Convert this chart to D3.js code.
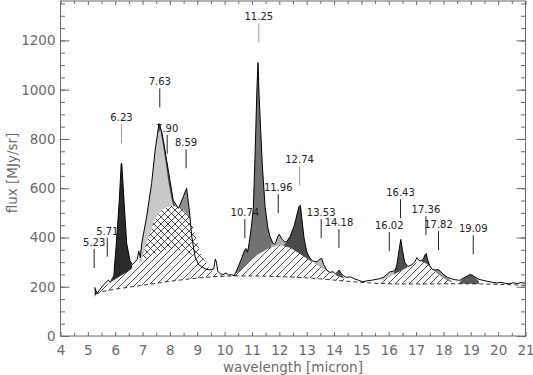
<!DOCTYPE html>
<html>
<head>
<meta charset="utf-8">
<script src="https://cdn.jsdelivr.net/npm/d3@7"></script>
<style>
body { margin: 0; background: #fff; }
svg { display: block; }
text { font-family: "DejaVu Sans", sans-serif; }
</style>
</head>
<body>
<div id="chart"></div>
<script>
// observed spectrum [wavelength (micron), flux (MJy/sr)]
var spectrum = [
  [5.25,198],[5.3,182],[5.36,176],[5.45,190],[5.55,205],[5.62,212],[5.7,222],[5.75,227],[5.82,218],[5.9,235],
  [5.95,245],[6.05,389],[6.15,551],[6.22,700],[6.24,700],[6.32,551],[6.42,376],[6.54,305],[6.62,290],[6.72,300],
  [6.8,310],[6.86,345],[6.92,318],[6.97,376],[7.15,484],[7.33,619],[7.46,754],[7.6,862],[7.7,830],[7.76,795],
  [7.88,713],[8.0,632],[8.12,551],[8.31,518],[8.49,565],[8.61,600],[8.71,511],[8.8,403],[8.92,321],[9.05,290],
  [9.16,281],[9.3,272],[9.47,268],[9.6,272],[9.66,312],[9.7,300],[9.75,262],[9.85,252],[9.95,250],[10.05,256],
  [10.15,247],[10.25,250],[10.35,244],[10.5,281],[10.62,315],[10.72,345],[10.78,355],[10.84,340],[10.9,380],[10.98,445],
  [11.05,520],[11.12,760],[11.18,1000],[11.22,1110],[11.26,980],[11.32,830],[11.38,690],[11.48,524],[11.58,440],[11.66,403],
  [11.76,378],[11.84,372],[11.95,405],[12.0,413],[12.08,395],[12.2,382],[12.27,383],[12.4,405],[12.55,450],[12.65,495],
  [12.72,525],[12.77,531],[12.82,480],[12.9,400],[13.0,342],[13.1,320],[13.2,305],[13.37,301],[13.48,312],[13.55,315],
  [13.62,290],[13.73,268],[13.85,258],[13.97,261],[14.05,252],[14.15,262],[14.19,268],[14.25,255],[14.35,245],[14.45,238],
  [14.6,240],[14.75,232],[14.9,226],[15.05,220],[15.2,224],[15.35,226],[15.5,229],[15.65,232],[15.8,238],[15.95,252],
  [16.05,261],[16.15,262],[16.25,270],[16.3,290],[16.38,350],[16.44,392],[16.5,350],[16.58,300],[16.7,282],[16.85,290],
  [16.95,300],[17.03,318],[17.08,310],[17.15,305],[17.25,310],[17.33,330],[17.37,335],[17.42,310],[17.5,285],[17.6,270],
  [17.7,268],[17.8,270],[17.9,262],[18.0,250],[18.15,238],[18.3,232],[18.45,228],[18.6,226],[18.75,236],[18.9,245],
  [18.97,250],[19.05,247],[19.15,240],[19.3,230],[19.45,226],[19.6,222],[19.8,218],[19.95,215],[20.1,218],[20.25,214],
  [20.4,212],[20.55,216],[20.7,213],[20.85,217],[21.0,214]
];

// dust continuum (dashed from 5.3 on)
var continuum = [
  [5.2,150],[5.3,170],[5.5,180],[6.0,190],[6.5,198],[7.0,206],[7.5,214],[8.0,222],[8.5,229],[9.0,235],[9.5,240],
  [10.0,243],[10.5,244],[11.0,244],[11.5,243],[12.0,241],[12.5,239],[13.0,236],[13.5,232],[14.0,227],[14.5,222],
  [15.0,218],[15.5,214],[16.0,212],[16.5,211],[17.0,211],[17.5,211],[18.0,212],[18.5,212],[19.0,212],[19.5,211],
  [20.0,210],[20.5,208],[21.0,206]
];

// plateaus (diagonal hatch)
var plateau6to9 = [
  [5.3,170],[5.5,195],[6.0,230],[6.5,265],[7.0,305],[7.5,335],[7.8,348],[8.1,352],[8.4,347],[8.7,335],
  [9.0,318],[9.2,298],[9.4,276],[9.6,260],[9.8,250],[10.0,243]
];
var plateau10to14 = [
  [10.3,244],[10.6,268],[10.9,300],[11.2,330],[11.6,355],[12.0,369],[12.4,358],[12.8,330],[13.2,300],[13.5,280],
  [13.8,258],[14.1,245],[14.4,232],[14.6,221]
];
var plateau15to18 = [
  [15.5,214],[15.8,228],[16.1,245],[16.4,262],[16.7,280],[17.0,297],[17.2,303],[17.4,292],[17.6,270],[17.8,252],
  [18.0,235],[18.2,222],[18.4,212]
];
// 8 micron plateau (cross hatch)
var plateau8 = [
  [6.95,300],[7.1,360],[7.25,410],[7.4,460],[7.55,490],[7.7,510],[7.9,524],[8.1,528],[8.3,524],[8.5,512],
  [8.7,485],[8.85,440],[9.0,380],[9.15,330],[9.3,300],[9.45,272]
];

// features, top edges
var band523 = [[5.25,150],[5.25,198],[5.3,182],[5.36,172]];
var band623 = [[5.85,218],[5.95,245],[6.05,389],[6.15,551],[6.22,700],[6.24,700],[6.32,551],[6.42,376],[6.54,305],[6.62,285]];
var band859 = [[8.0,470],[8.12,551],[8.31,518],[8.49,565],[8.61,600],[8.71,511],[8.8,403],[8.92,321],[9.05,290],[9.16,281],[9.3,260]];
var band790 = [[7.5,700],[7.6,862],[7.7,830],[7.76,795],[7.88,713],[8.0,632],[8.12,551],[8.25,500]];
var band763 = [[6.85,290],[6.97,376],[7.15,484],[7.33,619],[7.46,754],[7.58,855],[7.65,838],[7.75,772],[7.85,700],[7.95,622],[8.05,562],[8.15,515],[8.3,480]];
var band1125 = [[10.35,240],[10.5,281],[10.62,315],[10.72,345],[10.78,355],[10.84,340],[10.9,380],[10.98,445],[11.05,520],[11.12,760],[11.18,1000],[11.22,1110],[11.26,980],[11.32,830],[11.38,690],[11.48,524],[11.58,440],[11.66,403],[11.76,378],[11.84,362],[11.95,350]];
var band1196 = [[11.7,372],[11.84,372],[11.95,405],[12.0,413],[12.08,395],[12.2,382],[12.3,375]];
var band1274 = [[12.15,365],[12.27,383],[12.4,405],[12.55,450],[12.65,495],[12.72,525],[12.77,531],[12.82,480],[12.9,400],[13.0,342],[13.1,320],[13.2,300]];
var band1353 = [[13.2,295],[13.37,301],[13.48,312],[13.55,315],[13.62,290],[13.73,268],[13.85,255]];
var band1418 = [[14.05,247],[14.15,262],[14.19,268],[14.25,255],[14.35,240]];
var band1602 = [[15.7,222],[15.8,238],[15.95,252],[16.05,261],[16.15,262],[16.25,270]];
var band1643 = [[16.2,262],[16.3,290],[16.38,350],[16.44,392],[16.5,350],[16.58,300],[16.7,278]];
var band1736 = [[17.15,300],[17.25,310],[17.33,330],[17.37,335],[17.42,310],[17.5,285],[17.6,268]];
var band1782 = [[17.55,262],[17.7,268],[17.8,270],[17.9,262],[18.0,250],[18.15,238],[18.3,222]];
var band1909 = [[18.6,220],[18.75,236],[18.9,245],[18.97,250],[19.05,247],[19.15,240],[19.3,222]];

// feature labels: name, wavelength, flux at the lower end of the marker
var labelNames = ["5.23","5.71","6.23","7.63","7.90","8.59","10.74","11.25","11.96","12.74","13.53","14.18","16.02","16.43","17.36","17.82","19.09"];
var labelWaves = [5.23, 5.71, 6.23, 7.63, 7.90, 8.59, 10.74, 11.25, 11.96, 12.74, 13.53, 14.18, 16.02, 16.43, 17.36, 17.82, 19.09];
var labelFlux  = [276, 322, 782, 928, 740, 681, 397, 1192, 499, 612, 397, 357, 345, 478, 409, 349, 332];

var xTicks = d3.range(4, 22, 1);
var yTicks = [0, 200, 400, 600, 800, 1000, 1200];

var W = 533, H = 375;
var x = d3.scaleLinear().domain([4, 21]).range([60.5, 525.5]);
var y = d3.scaleLinear().domain([0, 1360]).range([336, 1]);

var svg = d3.select("#chart").append("svg")
    .attr("width", W)
    .attr("height", H);

var defs = svg.append("defs");

defs.append("clipPath").attr("id", "plotclip")
  .append("rect")
    .attr("x", x(4)).attr("y", y(1360))
    .attr("width", x(21) - x(4)).attr("height", y(0) - y(1360));

var hatch = defs.append("pattern")
    .attr("id", "hatch")
    .attr("patternUnits", "userSpaceOnUse")
    .attr("width", 7).attr("height", 7);
hatch.append("rect").attr("width", 7).attr("height", 7).attr("fill", "#fff");
hatch.append("path")
    .attr("d", "M-1,1 l2,-2 M0,7 l7,-7 M6,8 l2,-2")
    .attr("stroke", "#000").attr("stroke-width", 0.7);

var cross = defs.append("pattern")
    .attr("id", "cross")
    .attr("patternUnits", "userSpaceOnUse")
    .attr("width", 7).attr("height", 7);
cross.append("rect").attr("width", 7).attr("height", 7).attr("fill", "#fff");
cross.append("path")
    .attr("d", "M-1,1 l2,-2 M0,7 l7,-7 M6,8 l2,-2 M-1,6 l2,2 M0,0 l7,7 M6,-1 l2,2")
    .attr("stroke", "#000").attr("stroke-width", 0.7);

var plot = svg.append("g").attr("clip-path", "url(#plotclip)");

var fromZero = d3.area()
    .x(function(d) { return x(d[0]); })
    .y0(y(0))
    .y1(function(d) { return y(d[1]); });

var line = d3.line()
    .x(function(d) { return x(d[0]); })
    .y(function(d) { return y(d[1]); });

// bands: painted first, lower parts are covered by the plateaus and the continuum mask
var bands = [
  {d: band523, c: "#1e1e1e"},
  {d: band623, c: "#2b2b2b"},
  {d: band859, c: "#8e8e8e"},
  {d: band790, c: "#4d4d4d"},
  {d: band763, c: "#c8c8c8"},
  {d: band1125, c: "#727272"},
  {d: band1196, c: "#b0b0b0"},
  {d: band1274, c: "#4a4a4a"},
  {d: band1353, c: "#b8b8b8"},
  {d: band1418, c: "#555555"},
  {d: band1602, c: "#bdbdbd"},
  {d: band1643, c: "#4e4e4e"},
  {d: band1736, c: "#4e4e4e"},
  {d: band1782, c: "#8a8a8a"},
  {d: band1909, c: "#5a5a5a"}
];

plot.selectAll("path.band")
    .data(bands)
    .enter().append("path")
    .attr("class", "band")
    .attr("d", function(b) { return fromZero(b.d); })
    .attr("fill", function(b) { return b.c; });

plot.append("path")
    .attr("d", fromZero(plateau8))
    .attr("fill", "url(#cross)");

[plateau6to9, plateau10to14, plateau15to18].forEach(function(p) {
    plot.append("path")
        .attr("d", fromZero(p))
        .attr("fill", "url(#hatch)");
});

// white below the continuum
plot.append("path")
    .attr("d", fromZero(continuum))
    .attr("fill", "#fff");

plot.append("path")
    .attr("d", line(continuum.filter(function(d) { return d[0] >= 5.3; })))
    .attr("fill", "none")
    .attr("stroke", "#000")
    .attr("stroke-width", 0.8)
    .attr("stroke-dasharray", "4,3");

plot.append("path")
    .attr("d", line(spectrum))
    .attr("fill", "none")
    .attr("stroke", "#000")
    .attr("stroke-width", 1);

// feature labels
var grayLines = ["6.23", "11.25", "12.74"];
var labels = svg.append("g").selectAll("g")
    .data(labelNames)
    .enter().append("g")
    .attr("transform", function(d, i) { return "translate(" + x(labelWaves[i]) + "," + y(labelFlux[i]) + ")"; });

labels.append("line")
    .attr("x1", 0).attr("x2", 0)
    .attr("y1", 0).attr("y2", -19)
    .attr("stroke", function(d) { return grayLines.indexOf(d) >= 0 ? "#999" : "#222"; })
    .attr("stroke-width", 1);

labels.append("text")
    .attr("y", -22)
    .attr("text-anchor", "middle")
    .attr("font-size", 10)
    .attr("fill", "#222")
    .text(function(d) { return d; });

// axes
var axisColor = "#6a6a6a";

function styleAxis(g) {
    g.select(".domain").remove();
    g.selectAll("line").attr("stroke", axisColor);
    g.selectAll("text").attr("fill", axisColor).attr("font-size", 13.5)
        .attr("font-family", "\"DejaVu Sans\", sans-serif");
}

svg.append("g")
    .attr("transform", "translate(" + x(4) + ",0)")
    .call(d3.axisLeft(y).tickValues(yTicks).tickSize(-9).tickPadding(5).tickFormat(d3.format("d")))
    .call(styleAxis);
svg.append("g")
    .attr("transform", "translate(" + x(4) + ",0)")
    .call(d3.axisLeft(y).tickValues(d3.range(0, 1360, 50)).tickSize(-4.5).tickFormat(""))
    .call(styleAxis);
svg.append("g")
    .attr("transform", "translate(" + x(21) + ",0)")
    .call(d3.axisRight(y).tickValues(yTicks).tickSize(-9).tickFormat(""))
    .call(styleAxis);
svg.append("g")
    .attr("transform", "translate(" + x(21) + ",0)")
    .call(d3.axisRight(y).tickValues(d3.range(0, 1360, 50)).tickSize(-4.5).tickFormat(""))
    .call(styleAxis);

svg.append("g")
    .attr("transform", "translate(0," + y(0) + ")")
    .call(d3.axisBottom(x).tickValues(xTicks).tickSize(-4).tickPadding(9).tickFormat(d3.format("d")))
    .call(styleAxis);
svg.append("g")
    .attr("transform", "translate(0," + y(0) + ")")
    .call(d3.axisBottom(x).tickValues(d3.range(4.5, 21, 1)).tickSize(-3).tickFormat(""))
    .call(styleAxis);
svg.append("g")
    .attr("transform", "translate(0," + y(1360) + ")")
    .call(d3.axisTop(x).tickValues(xTicks).tickSize(-4).tickFormat(""))
    .call(styleAxis);
svg.append("g")
    .attr("transform", "translate(0," + y(1360) + ")")
    .call(d3.axisTop(x).tickValues(d3.range(4.5, 21, 1)).tickSize(-3).tickFormat(""))
    .call(styleAxis);

svg.append("rect")
    .attr("x", x(4)).attr("y", y(1360))
    .attr("width", x(21) - x(4)).attr("height", y(0) - y(1360))
    .attr("fill", "none")
    .attr("stroke", axisColor)
    .attr("stroke-width", 1);

svg.append("text")
    .attr("x", (x(4) + x(21)) / 2)
    .attr("y", 372)
    .attr("text-anchor", "middle")
    .attr("font-size", 13.5)
    .attr("fill", axisColor)
    .text("wavelength [micron]");

svg.append("text")
    .attr("transform", "translate(17," + 173 + ") rotate(-90)")
    .attr("text-anchor", "middle")
    .attr("font-size", 13.5)
    .attr("fill", axisColor)
    .text("flux [MJy/sr]");
</script>
</body>
</html>
